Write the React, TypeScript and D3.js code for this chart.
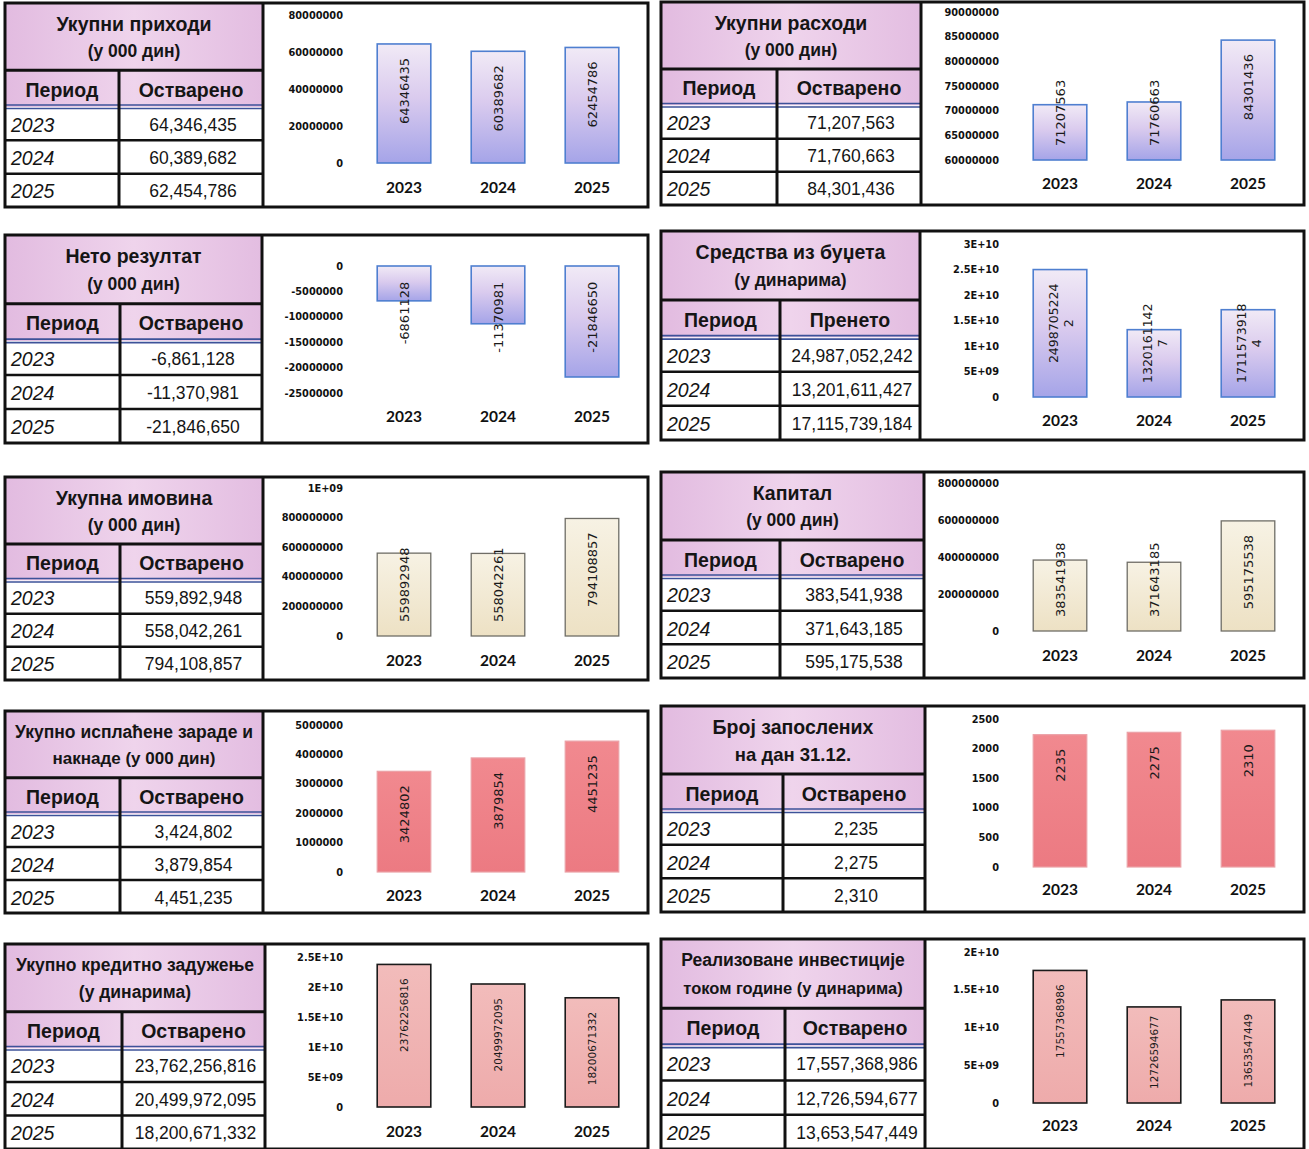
import * as d3 from 'd3'

const YEARS = ['2023', '2024', '2025']

// values per indicator (2023, 2024, 2025)
const prihodi = [64346435, 60389682, 62454786]
const rashodi = [71207563, 71760663, 84301436]
const netoRezultat = [-6861128, -11370981, -21846650]
const budzet = [24987052242, 13201611427, 17115739184]
const imovina = [559892948, 558042261, 794108857]
const kapital = [383541938, 371643185, 595175538]
const zarade = [3424802, 3879854, 4451235]
const zaposleni = [2235, 2275, 2310]
const krediti = [23762256816, 20499972095, 18200671332]
const investicije = [17557368986, 12726594677, 13653547449]

// axis ticks as shown on each chart
const prihodiTicks = [0, 20000000, 40000000, 60000000, 80000000]
const rashodiTicks = [60000000, 65000000, 70000000, 75000000, 80000000, 85000000, 90000000]
const netoTicks = [-25000000, -20000000, -15000000, -10000000, -5000000, 0]
const budzetTicks = [0, 5e9, 1e10, 1.5e10, 2e10, 2.5e10, 3e10]
const imovinaTicks = [0, 200000000, 400000000, 600000000, 800000000, 1e9]
const kapitalTicks = [0, 200000000, 400000000, 600000000, 800000000]
const zaradeTicks = [0, 1000000, 2000000, 3000000, 4000000, 5000000]
const zaposleniTicks = [0, 500, 1000, 1500, 2000, 2500]
const kreditiTicks = [0, 5e9, 1e10, 1.5e10, 2e10, 2.5e10]
const investicijeTicks = [0, 5e9, 1e10, 1.5e10, 2e10]

type Kind = 'blue' | 'cream' | 'red' | 'pink'

const PANELS: { title: string[]; head: string; values: number[]; ticks: number[]; kind: Kind }[] = [
  { title: ['Укупни приходи', '(у 000 дин)'], head: 'Остварено', values: prihodi, ticks: prihodiTicks, kind: 'blue' },
  { title: ['Укупни расходи', '(у 000 дин)'], head: 'Остварено', values: rashodi, ticks: rashodiTicks, kind: 'blue' },
  { title: ['Нето резултат', '(у 000 дин)'], head: 'Остварено', values: netoRezultat, ticks: netoTicks, kind: 'blue' },
  { title: ['Средства из буџета', '(у динарима)'], head: 'Пренето', values: budzet, ticks: budzetTicks, kind: 'blue' },
  { title: ['Укупна имовина', '(у 000 дин)'], head: 'Остварено', values: imovina, ticks: imovinaTicks, kind: 'cream' },
  { title: ['Капитал', '(у 000 дин)'], head: 'Остварено', values: kapital, ticks: kapitalTicks, kind: 'cream' },
  { title: ['Укупно исплаћене зараде и', 'накнаде (у 000 дин)'], head: 'Остварено', values: zarade, ticks: zaradeTicks, kind: 'red' },
  { title: ['Број запослених', 'на дан 31.12.'], head: 'Остварено', values: zaposleni, ticks: zaposleniTicks, kind: 'red' },
  { title: ['Укупно кредитно задужење', '(у динарима)'], head: 'Остварено', values: krediti, ticks: kreditiTicks, kind: 'pink' },
  { title: ['Реализоване инвестиције', 'током године (у динарима)'], head: 'Остварено', values: investicije, ticks: investicijeTicks, kind: 'pink' },
]

// frame geometry for each panel (page pixels)
const FRAMES = [
  { x: 5, y0: 3, y1: 207, top: 15, bot: 163, yearY: 187, tw: 258, sw: 114, fs: [19.5, 17.5], lab: 13, wrap: 0 },
  { x: 661, y0: 2, y1: 205, top: 12, bot: 160, yearY: 183, tw: 260, sw: 116, fs: [19.5, 17.5], lab: 13, wrap: 0 },
  { x: 5, y0: 235, y1: 443, top: 266, bot: 393, yearY: 416, tw: 257, sw: 115, fs: [19.5, 17.5], lab: 13, wrap: 0 },
  { x: 661, y0: 231, y1: 440, top: 244, bot: 397, yearY: 420, tw: 259, sw: 119, fs: [19.5, 17.5], lab: 12.5, wrap: 10 },
  { x: 5, y0: 477, y1: 680, top: 488, bot: 636, yearY: 660, tw: 258, sw: 115, fs: [19.5, 17.5], lab: 13, wrap: 0 },
  { x: 661, y0: 472, y1: 678, top: 483, bot: 631, yearY: 655, tw: 263, sw: 119, fs: [19.5, 17.5], lab: 13, wrap: 0 },
  { x: 5, y0: 711, y1: 913, top: 725, bot: 872, yearY: 895, tw: 258, sw: 115, fs: [17.5, 17], lab: 13, wrap: 0 },
  { x: 661, y0: 706, y1: 912, top: 719, bot: 867, yearY: 889, tw: 264, sw: 122, fs: [19.5, 18.5], lab: 13, wrap: 0 },
  { x: 5, y0: 944, y1: 1149, top: 957, bot: 1107, yearY: 1131, tw: 260, sw: 117, fs: [17.5, 17.5], lab: 10.5, wrap: 0 },
  { x: 661, y0: 939, y1: 1149, top: 952, bot: 1103, yearY: 1125, tw: 264, sw: 124, fs: [17.5, 16.5], lab: 10.5, wrap: 0 },
]

const BAR_STYLE: Record<Kind, { fill: string; stroke: string; sw: number }> = {
  blue: { fill: 'url(#gBlue)', stroke: '#4f7fd0', sw: 1.6 },
  cream: { fill: 'url(#gCream)', stroke: '#6f6d66', sw: 1.3 },
  red: { fill: 'url(#gRed)', stroke: '#eba0a6', sw: 1.2 },
  pink: { fill: 'url(#gPink)', stroke: '#1b1b1b', sw: 1.6 },
}

const SANS = "'Liberation Sans', Arial, sans-serif"
const DEJA = "'DejaVu Sans', sans-serif"
const fmtThousands = d3.formatLocale({ decimal: '.', thousands: ',', grouping: [3], currency: ['', ''], minus: '-' }).format(',')

// Excel "General" look: big numbers switch to scientific notation
function excelGeneral(v: number) {
  if (Math.abs(v) >= 1e9) {
    const [m, e] = v.toExponential().split('e')
    const ex = parseInt(e, 10)
    return `${m}E${ex < 0 ? '-' : '+'}${String(Math.abs(ex)).padStart(2, '0')}`
  }
  return String(v)
}

function Panel({ p, f }: { p: (typeof PANELS)[number]; f: (typeof FRAMES)[number] }) {
  const x0 = f.x
  const x1 = f.x + 643
  const h = f.y1 - f.y0
  const titleH = h * 0.33
  const headH = h * 0.18
  const rowH = (h - titleH - headH) / 3
  const tx1 = x0 + f.tw
  const sx = x0 + f.sw
  const headTop = f.y0 + titleH
  const rowsTop = headTop + headH

  const [d0, d1] = d3.extent(p.ticks) as [number, number]
  const y = d3.scaleLinear().domain([d0, d1]).range([f.bot, f.top])
  const xb = d3.scaleBand<string>().domain(YEARS).range([x0 + 352, x0 + 634]).paddingInner(0.43).paddingOuter(0.215)
  const base = y(Math.max(d0, Math.min(d1, 0)))
  const st = BAR_STYLE[p.kind]

  return (
    <g>
      {/* chart area */}
      <rect x={tx1} y={f.y0} width={x1 - tx1} height={h} fill="#fff" />
      {p.ticks.map((t) => (
        <text key={t} x={x0 + 338} y={y(t)} textAnchor="end" dominantBaseline="central"
          fontFamily={DEJA} fontWeight="bold" fontSize={9.8} fill="#111">{excelGeneral(t)}</text>
      ))}
      {p.values.map((v, i) => {
        const yr = YEARS[i]
        const bx = xb(yr) as number
        const bw = xb.bandwidth()
        const yv = y(v)
        const top = Math.min(yv, base)
        const bh = Math.abs(yv - base)
        const s = String(v)
        const lines = f.wrap && s.length > f.wrap ? [s.slice(0, f.wrap), s.slice(f.wrap)] : [s]
        const len = d3.max(lines, (l) => l.length * 0.636 * f.lab) as number
        let cy: number
        if (v < 0) cy = base + 14 + len / 2
        else if (bh >= len + 28) cy = top + 14 + len / 2
        else cy = base - 14 - len / 2
        const cx = bx + bw / 2
        return (
          <g key={yr}>
            <rect x={bx} y={top} width={bw} height={bh} fill={st.fill} stroke={st.stroke} strokeWidth={st.sw} />
            <text transform={`translate(${cx},${cy}) rotate(-90)`} textAnchor="middle" dominantBaseline="central"
              fontFamily={DEJA} fontSize={f.lab} fill="#1a1a1a">
              {lines.length === 1 ? s : lines.map((l, k) => (
                <tspan key={k} x={0} dy={k === 0 ? '-0.6em' : '1.2em'}>{l}</tspan>
              ))}
            </text>
            <text x={cx} y={f.yearY} textAnchor="middle" dominantBaseline="central"
              fontFamily="Lato, 'Liberation Sans', sans-serif" fontWeight="bold" fontSize={15.5} fill="#111">{yr}</text>
          </g>
        )
      })}

      {/* table */}
      <rect x={x0} y={f.y0} width={f.tw} height={titleH} fill="url(#gHead)" />
      <rect x={x0} y={headTop} width={f.tw} height={headH} fill="url(#gHead)" />
      <rect x={x0} y={rowsTop} width={f.tw} height={rowH * 3} fill="#fff" />
      <text x={x0 + f.tw / 2} y={f.y0 + titleH * 0.31} textAnchor="middle" dominantBaseline="central"
        fontFamily={SANS} fontWeight="bold" fontSize={f.fs[0]} fill="#151515">{p.title[0]}</text>
      <text x={x0 + f.tw / 2} y={f.y0 + titleH * 0.71} textAnchor="middle" dominantBaseline="central"
        fontFamily={SANS} fontWeight="bold" fontSize={f.fs[1]} fill="#151515">{p.title[1]}</text>
      <text x={(x0 + sx) / 2} y={headTop + headH / 2 + 1} textAnchor="middle" dominantBaseline="central"
        fontFamily={SANS} fontWeight="bold" fontSize={19.5} fill="#151515">Период</text>
      <text x={(sx + tx1) / 2} y={headTop + headH / 2 + 1} textAnchor="middle" dominantBaseline="central"
        fontFamily={SANS} fontWeight="bold" fontSize={19.5} fill="#151515">{p.head}</text>
      {p.values.map((v, i) => (
        <g key={i}>
          <text x={x0 + 6} y={rowsTop + rowH * (i + 0.5) + 1} dominantBaseline="central"
            fontFamily={SANS} fontStyle="italic" fontSize={19.5} fill="#151515">{YEARS[i]}</text>
          <text x={(sx + tx1) / 2 + 2} y={rowsTop + rowH * (i + 0.5) + 1} textAnchor="middle" dominantBaseline="central"
            fontFamily={SANS} fontSize={17.5} fill="#151515">{fmtThousands(v)}</text>
        </g>
      ))}
      {/* grid lines */}
      <line x1={x0} x2={tx1} y1={headTop} y2={headTop} stroke="#111" strokeWidth={3} />
      <line x1={x0} x2={tx1} y1={rowsTop - 2} y2={rowsTop - 2} stroke="#3d5299" strokeWidth={1.6} />
      <line x1={x0} x2={tx1} y1={rowsTop + 1.5} y2={rowsTop + 1.5} stroke="#3d5299" strokeWidth={1.6} />
      {[1, 2].map((k) => (
        <line key={k} x1={x0} x2={tx1} y1={rowsTop + rowH * k} y2={rowsTop + rowH * k} stroke="#111" strokeWidth={2.5} />
      ))}
      <line x1={sx} x2={sx} y1={headTop} y2={f.y1} stroke="#111" strokeWidth={3} />
      <line x1={tx1} x2={tx1} y1={f.y0} y2={f.y1} stroke="#111" strokeWidth={3} />
      <rect x={x0} y={f.y0} width={x1 - x0} height={h} fill="none" stroke="#111" strokeWidth={3} />
    </g>
  )
}

export default function App() {
  return (
    <div style={{ position: 'absolute', left: 0, top: 0, background: '#fff' }}>
      <svg width={1309} height={1149} viewBox="0 0 1309 1149" style={{ display: 'block' }}>
        <defs>
          <linearGradient id="gBlue" x1="0" y1="0" x2="0" y2="1">
            <stop offset="0" stopColor="#f1eaf6" />
            <stop offset="0.45" stopColor="#dacbee" />
            <stop offset="1" stopColor="#a5a4e8" />
          </linearGradient>
          <linearGradient id="gCream" x1="0" y1="0" x2="0" y2="1">
            <stop offset="0" stopColor="#f7f2e4" />
            <stop offset="1" stopColor="#ede1c4" />
          </linearGradient>
          <linearGradient id="gRed" x1="0" y1="0" x2="0" y2="1">
            <stop offset="0" stopColor="#f1898f" />
            <stop offset="1" stopColor="#ec7a82" />
          </linearGradient>
          <linearGradient id="gPink" x1="0" y1="0" x2="0" y2="1">
            <stop offset="0" stopColor="#f2bcbb" />
            <stop offset="1" stopColor="#eeabab" />
          </linearGradient>
          <linearGradient id="gHead" x1="0" y1="0" x2="1" y2="0">
            <stop offset="0" stopColor="#e2bbe0" />
            <stop offset="0.5" stopColor="#efd4ec" />
            <stop offset="1" stopColor="#e3bde1" />
          </linearGradient>
        </defs>
        <rect width={1309} height={1149} fill="#fff" />
        {PANELS.map((p, i) => <Panel key={i} p={p} f={FRAMES[i]} />)}
      </svg>
    </div>
  )
}
